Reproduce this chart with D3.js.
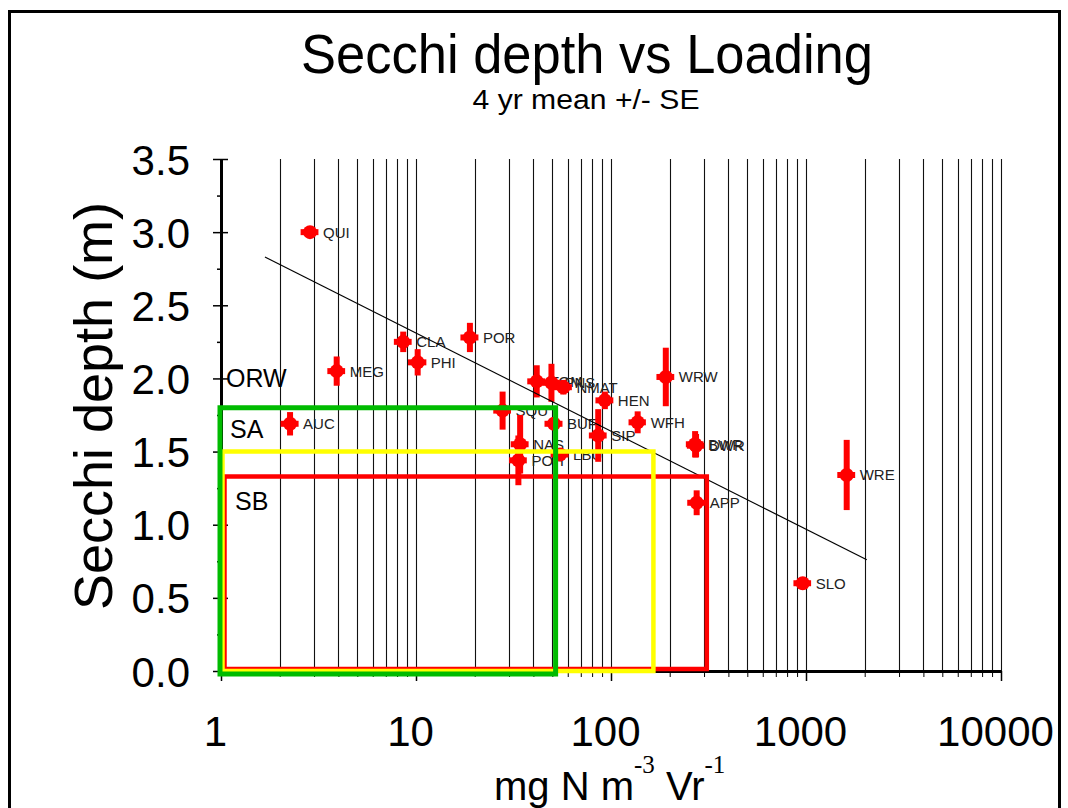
<!DOCTYPE html>
<html>
<head>
<meta charset="utf-8">
<script src="https://cdn.jsdelivr.net/npm/d3@7"></script>
<style>
  body { margin: 0; background: #fff; }
  svg { display: block; font-family: "Liberation Sans", Arial, sans-serif; }
</style>
</head>
<body>
<svg width="1068" height="808"></svg>
<script>
// site codes, N loading (mg N m-3 yr-1) and secchi depth (m), 4 yr mean +/- SE
const sites     = ["QUI", "AUC", "MEG", "CLA", "PHI", "POR", "SQU", "NAS", "POH", "TOM", "PNS", "NMAT",
                   "BUF", "LBU", "SIP", "HEN", "WFH", "WRW", "BWR", "DWR", "APP", "SLO", "WRE"];
const loading   = [2.86, 2.26, 3.92, 8.6, 10.2, 18.9, 27.8, 34.2, 33.5, 41.6, 49.5, 57,
                   51, 54.8, 86, 93, 137, 191, 270, 273, 275, 962, 1617];
const loadingSE = [0.3, 0.24, 0.41, 0.9, 1.1, 2.0, 2.9, 3.6, 3.5, 4.4, 5.2, 6.0,
                   5.4, 5.8, 9, 9.8, 14, 20, 28, 28, 29, 100, 170];
const secchi    = [3.00, 1.69, 2.05, 2.25, 2.11, 2.28, 1.78, 1.55, 1.44, 1.98, 1.97, 1.94,
                   1.69, 1.48, 1.61, 1.85, 1.70, 2.01, 1.55, 1.54, 1.15, 0.60, 1.34];
const secchiSE  = [0.0, 0.08, 0.10, 0.07, 0.09, 0.10, 0.13, 0.20, 0.17, 0.11, 0.13, 0.05,
                   0.04, 0.04, 0.18, 0.06, 0.075, 0.20, 0.09, 0.08, 0.085, 0.0, 0.24];

// regression line end points
const fitLoading = [1.68, 2050];
const fitSecchi  = [2.83, 0.76];

// criteria boxes (from loading 1, depth 0)
const boxLoadMax   = [52, 165, 310];
const boxSecchiMax = [1.8, 1.5, 1.33];

const zoneLabels = ["ORW", "SA", "SB"];
const zoneLabelY = [1.94, 1.59, 1.10];

const xTicks = [1, 10, 100, 1000, 10000];
const yTicks = [0, 0.5, 1, 1.5, 2, 2.5, 3, 3.5];
const yMinor = [0.25, 0.75, 1.25, 1.75, 2.25, 2.75, 3.25];

const svg = d3.select("svg");

const x = d3.scaleLog().domain([1, 10000]).range([221, 1001]);
const y = d3.scaleLinear().domain([0, 3.5]).range([671, 159]);

// frame
svg.append("path")
  .attr("d", "M9.5,808 V11.5 H1059.5 V808")
  .attr("fill", "none")
  .attr("stroke", "#000")
  .attr("stroke-width", 3);

// titles
svg.append("text")
  .attr("x", 587).attr("y", 73)
  .attr("text-anchor", "middle")
  .attr("font-size", 55)
  .attr("textLength", 572).attr("lengthAdjust", "spacingAndGlyphs")
  .text("Secchi depth vs Loading");

svg.append("text")
  .attr("x", 586).attr("y", 109)
  .attr("text-anchor", "middle")
  .attr("font-size", 27)
  .attr("textLength", 227).attr("lengthAdjust", "spacingAndGlyphs")
  .text("4 yr mean +/- SE");

// vertical grid
svg.append("g")
  .selectAll("line")
  .data(x.ticks().filter(d => d > 1))
  .enter().append("line")
  .attr("x1", d => Math.round(x(d)) + 0.5)
  .attr("x2", d => Math.round(x(d)) + 0.5)
  .attr("y1", y(0))
  .attr("y2", y(3.5))
  .attr("stroke", "#111")
  .attr("stroke-width", 1.1);

// x axis
const gxMinor = svg.append("g")
  .attr("transform", `translate(0,${y(0)})`)
  .call(d3.axisBottom(x).tickValues(x.ticks()).tickSize(6).tickSizeOuter(0).tickFormat(""));
gxMinor.select(".domain").attr("stroke-width", 3);

const gx = svg.append("g")
  .attr("transform", `translate(0,${y(0)})`)
  .call(d3.axisBottom(x).tickValues(xTicks).tickSize(10).tickSizeOuter(0).tickFormat(d3.format("d")));
gx.select(".domain").remove();
gx.selectAll(".tick line").attr("stroke-width", 1.5);
gx.selectAll(".tick text")
  .attr("y", 75).attr("dy", null).attr("dx", -6)
  .attr("font-size", 42)
  .attr("font-family", '"Liberation Sans", Arial, sans-serif')
  .attr("fill", "#000");

// y axis
const gyMinor = svg.append("g")
  .attr("transform", `translate(${x(1)},0)`)
  .call(d3.axisLeft(y).tickValues(yMinor).tickSize(4).tickSizeOuter(0).tickFormat(""));
gyMinor.select(".domain").remove();
gyMinor.selectAll(".tick line").attr("x1", 2).attr("stroke-width", 1.5);

const gy = svg.append("g")
  .attr("transform", `translate(${x(1)},0)`)
  .call(d3.axisLeft(y).tickValues(yTicks).tickSize(8).tickSizeOuter(0).tickFormat(d3.format(".1f")));
gy.select(".domain").attr("stroke-width", 3);
gy.selectAll(".tick line").attr("x1", 7).attr("stroke-width", 1.5);
gy.selectAll(".tick text")
  .attr("x", -31).attr("dy", "0.36em")
  .attr("font-size", 42)
  .attr("font-family", '"Liberation Sans", Arial, sans-serif')
  .attr("fill", "#000");

// axis titles
svg.append("text")
  .attr("transform", "translate(112,406) rotate(-90)")
  .attr("text-anchor", "middle")
  .attr("font-size", 54)
  .text("Secchi depth (m)");

const xt = svg.append("text")
  .attr("x", 494).attr("y", 800)
  .attr("font-size", 40);
xt.append("tspan").text("mg N m");
xt.append("tspan").attr("dy", -27).attr("font-size", 25)
  .attr("font-family", '"Liberation Serif", "Times New Roman", serif').text("-3");
xt.append("tspan").attr("dy", 27).text(" Vr");
xt.append("tspan").attr("dy", -27).attr("font-size", 25)
  .attr("font-family", '"Liberation Serif", "Times New Roman", serif').text("-1");

// points with error bars
const pts = svg.append("g")
  .selectAll("g")
  .data(sites.map((s, i) => i))
  .enter().append("g");

pts.append("line")
  .attr("x1", i => x(loading[i])).attr("x2", i => x(loading[i]))
  .attr("y1", i => y(secchi[i] - secchiSE[i])).attr("y2", i => y(secchi[i] + secchiSE[i]))
  .attr("stroke", "#ff0000").attr("stroke-width", 6);

pts.append("line")
  .attr("x1", i => x(loading[i] - loadingSE[i])).attr("x2", i => x(loading[i] + loadingSE[i]))
  .attr("y1", i => y(secchi[i])).attr("y2", i => y(secchi[i]))
  .attr("stroke", "#ff0000").attr("stroke-width", 6);

pts.append("circle")
  .attr("cx", i => x(loading[i]))
  .attr("cy", i => y(secchi[i]))
  .attr("r", 7)
  .attr("fill", "#ff0000");

pts.append("text")
  .attr("x", i => x(loading[i]) + 13)
  .attr("y", i => y(secchi[i]) + 5.5)
  .attr("font-size", 15)
  .attr("fill", "#222")
  .text(i => sites[i]);

// regression line
svg.append("line")
  .attr("x1", x(fitLoading[0])).attr("y1", y(fitSecchi[0]))
  .attr("x2", x(fitLoading[1])).attr("y2", y(fitSecchi[1]))
  .attr("stroke", "#000").attr("stroke-width", 1.2);

// criteria boxes, drawn red, yellow, green
const boxStyle = [
  { c: "#00bb00", w: 5,   dx: -1,  dy: 3 },
  { c: "#ffff00", w: 4.5, dx: 1.5, dy: 0 },
  { c: "#ff0000", w: 4.5, dx: 3.5, dy: -2 }
];
svg.append("g")
  .selectAll("path")
  .data([2, 1, 0])
  .enter().append("path")
  .attr("d", i => {
    const s = boxStyle[i];
    const x0 = x(1) + s.dx, yb = y(0) + s.dy;
    const xr = x(boxLoadMax[i]), yt = y(boxSecchiMax[i]);
    return `M${x0},${yb} L${x0},${yt} L${xr},${yt} L${xr},${yb} Z`;
  })
  .attr("fill", "none")
  .attr("stroke", i => boxStyle[i].c)
  .attr("stroke-width", i => boxStyle[i].w);

// zone labels
const zoneDx = [5, 9, 14];
svg.append("g")
  .selectAll("text")
  .data(zoneLabels)
  .enter().append("text")
  .attr("x", (d, i) => x(1) + zoneDx[i])
  .attr("y", (d, i) => y(zoneLabelY[i]))
  .attr("font-size", 25)
  .text(d => d);
</script>
</body>
</html>
